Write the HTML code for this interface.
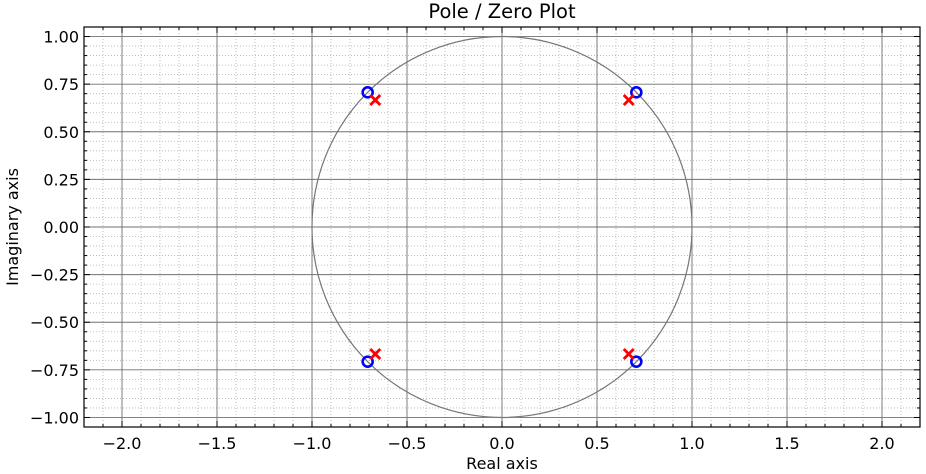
<!DOCTYPE html>
<html><head><meta charset="utf-8"><style>
html,body{margin:0;padding:0;background:#fff;}
svg{display:block;font-family:"DejaVu Sans","Liberation Sans",sans-serif;}
</style></head><body>
<svg id="chart" width="926" height="474">
<g id="grid"></g>
<g id="circle"></g>
<g id="marks"></g>
<g id="axes"></g>
<text x="502" y="18" text-anchor="middle" font-size="19.5">Pole / Zero Plot</text>
<text x="502" y="469" text-anchor="middle" font-size="16">Real axis</text>
<text transform="translate(18,227) rotate(-90)" text-anchor="middle" font-size="16">Imaginary axis</text>
</svg>
<script>
const xTicks=[-2.0,-1.5,-1.0,-0.5,0.0,0.5,1.0,1.5,2.0];
const yTicks=[-1.0,-0.75,-0.5,-0.25,0.0,0.25,0.5,0.75,1.0];
const poleRe=[-0.667,0.667,-0.667,0.667];
const poleIm=[0.667,0.667,-0.667,-0.667];
const zeroRe=[-0.707,0.707,-0.707,0.707];
const zeroIm=[0.707,0.707,-0.707,-0.707];
const L=84,R=920,T=27,B=427,xmin=-2.2,xmax=2.2,ymin=-1.05,ymax=1.05;
const sx=v=>L+(v-xmin)/(xmax-xmin)*(R-L);
const sy=v=>B-(v-ymin)/(ymax-ymin)*(B-T);
const NS='http://www.w3.org/2000/svg';
function mk(p,t,a){const e=document.createElementNS(NS,t);for(const k in a)e.setAttribute(k,a[k]);p.appendChild(e);return e;}
const g=document.getElementById('grid'),ax=document.getElementById('axes'),mg=document.getElementById('marks');
for(let i=-22;i<=22;i++){if(i%5===0)continue;const x=sx(i/10);
 const l=mk(g,'line',{x1:x,x2:x,y1:T,y2:B,stroke:'#b0b0b0','stroke-width':0.8,'stroke-dasharray':'1,2'});
 
 const t=mk(ax,'line',{x1:x,x2:x,y1:B,y2:B-3,stroke:'#000','stroke-width':1});
 const t2=mk(ax,'line',{x1:x,x2:x,y1:T,y2:T+3,stroke:'#000','stroke-width':1});}
for(let i=-21;i<=21;i++){if(i%5===0)continue;const y=sy(i/20);
 const l=mk(g,'line',{x1:L,x2:R,y1:y,y2:y,stroke:'#b0b0b0','stroke-width':0.8,'stroke-dasharray':'1,2'});
 
 const t=mk(ax,'line',{x1:L,x2:L+3,y1:y,y2:y,stroke:'#000','stroke-width':1});
 const t2=mk(ax,'line',{x1:R,x2:R-3,y1:y,y2:y,stroke:'#000','stroke-width':1});}
xTicks.forEach(v=>{const x=sx(v);
 const l=mk(g,'line',{x1:x,x2:x,y1:T,y2:B,stroke:'#707070','stroke-width':0.9});
 const t=mk(ax,'line',{x1:x,x2:x,y1:B,y2:B-6,stroke:'#000','stroke-width':1});
 const t2=mk(ax,'line',{x1:x,x2:x,y1:T,y2:T+6,stroke:'#000','stroke-width':1});
 const tx=mk(ax,'text',{x:x,y:B+22,'text-anchor':'middle','font-size':16});tx.textContent=(v<0?'\u2212':'')+Math.abs(v).toFixed(1);
 });
yTicks.forEach(v=>{const y=sy(v);
 const l=mk(g,'line',{x1:L,x2:R,y1:y,y2:y,stroke:'#707070','stroke-width':0.9});
 const t=mk(ax,'line',{x1:L,x2:L+6,y1:y,y2:y,stroke:'#000','stroke-width':1});
 const t2=mk(ax,'line',{x1:R,x2:R-6,y1:y,y2:y,stroke:'#000','stroke-width':1});
 const tx=mk(ax,'text',{x:L-5,y:y+6,'text-anchor':'end','font-size':16});tx.textContent=(v<0?'\u2212':'')+Math.abs(v).toFixed(2);
 });
const fr=mk(ax,'rect',{x:L,y:T,width:R-L,height:B-T,fill:'none',stroke:'#000','stroke-width':1.2});

const c=mk(document.getElementById('circle'),'ellipse',{cx:sx(0),cy:sy(0),rx:sx(1)-sx(0),ry:sy(0)-sy(1),fill:'none',stroke:'#777','stroke-width':1.2});

zeroRe.forEach((r,i)=>{const z=mk(mg,'circle',{cx:sx(r),cy:sy(zeroIm[i]),r:5,fill:'none',stroke:'#0000ff','stroke-width':2.6});
 });
poleRe.forEach((r,i)=>{const x=sx(r),y=sy(poleIm[i]),s=5;
 const p=mk(mg,'path',{d:`M${x-s},${y-s}L${x+s},${y+s}M${x-s},${y+s}L${x+s},${y-s}`,stroke:'#ff0000','stroke-width':2.8,fill:'none'});
 });
</script>
</body></html>
